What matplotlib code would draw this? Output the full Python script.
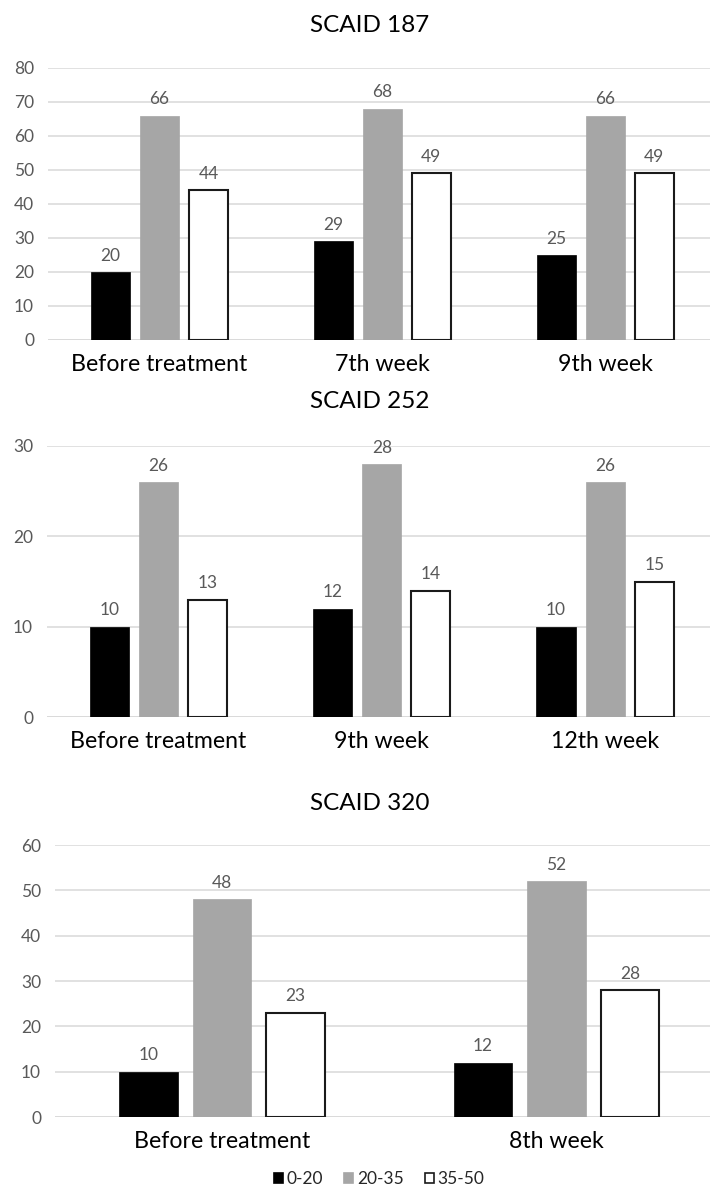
import matplotlib
matplotlib.use("Agg")
import matplotlib.pyplot as plt
from matplotlib.patches import Patch
import numpy as np

plt.rcParams['font.family'] = ['Lato', 'DejaVu Sans']

# data
series = ['0-20', '20-35', '35-50']

cats_187 = ['Before treatment', '7th week', '9th week']
low_187 = [20, 29, 25]
mid_187 = [66, 68, 66]
high_187 = [44, 49, 49]

cats_252 = ['Before treatment', '9th week', '12th week']
low_252 = [10, 12, 10]
mid_252 = [26, 28, 26]
high_252 = [13, 14, 15]

cats_320 = ['Before treatment', '8th week']
low_320 = [10, 12]
mid_320 = [48, 52]
high_320 = [23, 28]

fills = ['#000000', '#a6a6a6', '#ffffff']
edges = ['#000000', '#a6a6a6', '#1a1a1a']

fig = plt.figure(figsize=(7.1, 11.87), dpi=100)

def panel(rect, title, title_y, cats, vals, ymax, ystep, xright):
    ax = fig.add_axes(rect)
    x = np.arange(len(cats))
    w = 0.175
    off = 0.22
    for i, v in enumerate(vals):
        bars = ax.bar(x + (i - 1) * off, v, w, color=fills[i], edgecolor=edges[i],
                      linewidth=1.5 if i == 2 else 0.5, zorder=3)
        for b, val in zip(bars, v):
            ax.annotate(str(val), (b.get_x() + b.get_width() / 2, val),
                        xytext=(0, 6), textcoords='offset points',
                        ha='center', va='bottom', fontsize=12.5, color='#595959')
    ax.set_xlim(-0.5, xright)
    ax.set_ylim(0, ymax)
    ax.set_yticks(np.arange(0, ymax + 1, ystep))
    ax.set_xticks(x)
    ax.set_xticklabels(cats, fontsize=16.7, color='#000000')
    ax.tick_params(axis='y', length=0, pad=10, labelsize=12.5, labelcolor='#595959')
    ax.tick_params(axis='x', length=0, pad=10)
    ax.yaxis.grid(True, color='#d9d9d9', linewidth=1.1, zorder=0)
    ax.set_axisbelow(True)
    for s in ax.spines.values():
        s.set_visible(False)
    ax.axhline(0, color='#d9d9d9', linewidth=1.1, zorder=1)
    fig.text(370 / 710, 1 - title_y / 1187, title, ha='center', va='center',
             fontsize=17.5)
    return ax

panel([48 / 710, 1 - 340 / 1187, 662 / 710, 272 / 1187], 'SCAID 187', 25,
      cats_187, [low_187, mid_187, high_187], 80, 10, 2.47)
panel([47 / 710, 1 - 717 / 1187, 663 / 710, 271 / 1187], 'SCAID 252', 402,
      cats_252, [low_252, mid_252, high_252], 30, 10, 2.47)
panel([55 / 710, 1 - 1117 / 1187, 655 / 710, 272 / 1187], 'SCAID 320', 803,
      cats_320, [low_320, mid_320, high_320], 60, 10, 1.46)

handles = [Patch(facecolor=fills[i], edgecolor=edges[i], linewidth=1.2) for i in range(3)]
fig.legend(handles, series, loc='center', bbox_to_anchor=(379 / 710, 1 - 1179 / 1187),
           ncol=3, frameon=False, fontsize=12.5, handlelength=0.55, handleheight=0.55,
           handletextpad=0.2, columnspacing=1.2, labelcolor='#262626',
           borderpad=0.2)

fig.savefig('out.png', dpi=100)
